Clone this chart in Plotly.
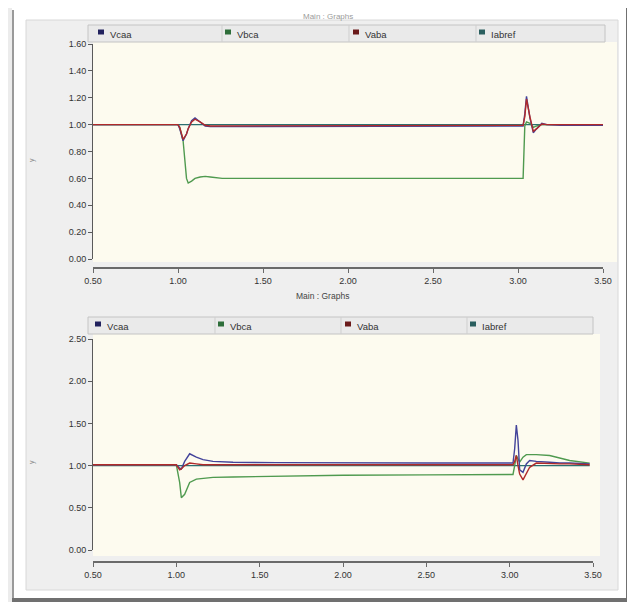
import plotly.graph_objects as go

# ---------------- data ----------------
series_names = ["Vcaa", "Vbca", "Vaba", "Iabref"]

t_top = [0.50, 1.00, 1.01, 1.03, 1.05, 1.06, 1.08, 1.10, 1.13, 1.16, 1.19, 1.26, 1.60, 2.00,
         2.50, 3.00, 3.02, 3.03, 3.04, 3.05, 3.07, 3.09, 3.11, 3.14, 3.17, 3.25, 3.50]
vcaa_top = [1.00, 1.00, 0.97, 0.88, 0.93, 0.97, 1.03, 1.05, 1.02, 0.99, 0.985, 0.985, 0.985, 0.985,
            0.985, 0.985, 0.985, 0.99, 1.08, 1.21, 1.05, 0.94, 0.97, 1.01, 1.00, 0.995, 0.995]
vbca_top = [1.00, 1.00, 0.98, 0.88, 0.60, 0.565, 0.58, 0.60, 0.61, 0.615, 0.61, 0.60, 0.60, 0.60,
            0.60, 0.60, 0.60, 0.60, 0.99, 1.02, 1.01, 0.98, 0.99, 1.00, 1.00, 1.00, 1.00]
vaba_top = [1.00, 1.00, 0.98, 0.89, 0.93, 0.97, 1.02, 1.04, 1.02, 0.995, 0.99, 0.99, 0.99, 0.99,
            0.99, 0.99, 0.99, 0.995, 1.06, 1.19, 1.06, 0.95, 0.97, 1.005, 1.00, 1.00, 1.00]
iabref_top = [1.00] * len(t_top)

t_bot = [0.50, 1.00, 1.02, 1.03, 1.05, 1.08, 1.12, 1.16, 1.22, 1.34, 1.60, 2.00, 2.50, 3.00,
         3.02, 3.03, 3.04, 3.05, 3.06, 3.08, 3.10, 3.12, 3.16, 3.24, 3.30, 3.36, 3.48]
vcaa_bot = [1.01, 1.01, 0.97, 0.96, 1.05, 1.14, 1.10, 1.07, 1.05, 1.04, 1.035, 1.03, 1.03, 1.03,
            1.03, 1.20, 1.48, 1.30, 0.95, 0.92, 1.02, 1.06, 1.05, 1.04, 1.03, 1.03, 1.02]
vbca_bot = [1.01, 1.01, 0.80, 0.62, 0.66, 0.80, 0.84, 0.85, 0.86, 0.865, 0.875, 0.885, 0.89, 0.895,
            0.895, 1.00, 1.12, 1.08, 1.04, 1.10, 1.13, 1.13, 1.13, 1.12, 1.09, 1.06, 1.03]
vaba_bot = [1.01, 1.01, 0.95, 0.96, 1.00, 1.03, 1.02, 1.01, 1.01, 1.01, 1.01, 1.01, 1.01, 1.01,
            1.01, 1.05, 1.12, 1.00, 0.90, 0.83, 0.90, 0.98, 1.03, 1.02, 1.02, 1.02, 1.01]
iabref_bot = [1.00] * len(t_bot)

x_ticks = [0.5, 1.0, 1.5, 2.0, 2.5, 3.0, 3.5]
y_ticks_top = [0.0, 0.2, 0.4, 0.6, 0.8, 1.0, 1.2, 1.4, 1.6]
y_ticks_bot = [0.0, 0.5, 1.0, 1.5, 2.0, 2.5]
panel_title = "Main : Graphs"

# ---------------- style ----------------
# the page body has an 8px margin, so the figure is placed at (8, 8) in the window
OFF = 8
W, H = 635 - OFF, 602 - OFF
colors = {"Vcaa": "#43439a", "Vbca": "#4f9a4f", "Vaba": "#b02a2a", "Iabref": "#2b7070"}
legend_marker_colors = {"Vcaa": "#22225e", "Vbca": "#2e6e3a", "Vaba": "#6a1a1a", "Iabref": "#2b5f5f"}
FONT = "Liberation Sans"


def px(x):
    return (x - OFF) / W


def py(y):
    return 1 - (y - OFF) / H


fig = go.Figure()

top_series = {"Vcaa": vcaa_top, "Vbca": vbca_top, "Vaba": vaba_top, "Iabref": iabref_top}
bot_series = {"Vcaa": vcaa_bot, "Vbca": vbca_bot, "Vaba": vaba_bot, "Iabref": iabref_bot}
order = ["Iabref", "Vbca", "Vcaa", "Vaba"]

for name in order:
    fig.add_trace(go.Scatter(x=t_top, y=top_series[name], mode="lines", name=name,
                             line=dict(color=colors[name], width=1.4), showlegend=False,
                             xaxis="x", yaxis="y"))
for name in order:
    fig.add_trace(go.Scatter(x=t_bot, y=bot_series[name], mode="lines", name=name,
                             line=dict(color=colors[name], width=1.4), showlegend=False,
                             xaxis="x2", yaxis="y2"))

tickfont = dict(family=FONT, size=9, color="#333333")

common_x = dict(range=[0.5, 3.5], tickvals=x_ticks, tickformat=".2f", showgrid=False,
                zeroline=False, showline=True, linecolor="#6a6a6a", linewidth=1.6,
                ticks="outside", ticklen=4, tickcolor="#6a6a6a", tickfont=tickfont,
                anchor="free", fixedrange=True, automargin=False)
common_y = dict(tickformat=".2f", showgrid=False, zeroline=False, showline=True,
                linecolor="#5a5a5a", linewidth=1, ticks="outside", ticklen=4,
                tickcolor="#5a5a5a", tickfont=tickfont, fixedrange=True, automargin=False)

shapes = []
# outer frame
shapes.append(dict(type="rect", xref="paper", yref="paper", x0=px(8), x1=px(12), y0=py(602), y1=py(8),
                   fillcolor="#ececec", line=dict(width=0), layer="below"))
shapes.append(dict(type="rect", xref="paper", yref="paper", x0=px(12), x1=px(14), y0=py(602), y1=py(10),
                   fillcolor="#9a9a9a", line=dict(width=0), layer="below"))
shapes.append(dict(type="rect", xref="paper", yref="paper", x0=px(626), x1=px(635), y0=py(602), y1=py(8),
                   fillcolor="#707070", line=dict(width=0), layer="below"))
shapes.append(dict(type="rect", xref="paper", yref="paper", x0=px(12), x1=px(635), y0=py(602), y1=py(598),
                   fillcolor="#707070", line=dict(width=0), layer="below"))
# gray panel
shapes.append(dict(type="rect", xref="paper", yref="paper", x0=px(26), x1=px(618), y0=py(590), y1=py(20),
                   fillcolor="#efefef", line=dict(color="#d8d8d8", width=1), layer="below"))
# plot backgrounds
shapes.append(dict(type="rect", xref="paper", yref="paper", x0=px(93), x1=px(617), y0=py(262), y1=py(42),
                   fillcolor="#fdfbef", line=dict(width=0), layer="below"))
shapes.append(dict(type="rect", xref="paper", yref="paper", x0=px(93), x1=px(600), y0=py(556), y1=py(334),
                   fillcolor="#fdfbef", line=dict(width=0), layer="below"))
# legend bars
legend_bars = [
    dict(x0=88, x1=605, y0=25, y1=42, seps=[222, 349, 476], marks=[101, 228, 356, 482]),
    dict(x0=88, x1=593, y0=317, y1=334, seps=[215, 341, 467], marks=[98, 221, 348, 473]),
]
annotations = []
for lb in legend_bars:
    shapes.append(dict(type="rect", xref="paper", yref="paper", x0=px(lb["x0"]), x1=px(lb["x1"]),
                       y0=py(lb["y1"]), y1=py(lb["y0"]), fillcolor="#eaeaea",
                       line=dict(color="#c4c4c4", width=1), layer="below"))
    for s in lb["seps"]:
        shapes.append(dict(type="line", xref="paper", yref="paper", x0=px(s), x1=px(s),
                           y0=py(lb["y1"]), y1=py(lb["y0"]), line=dict(color="#cfcfcf", width=1),
                           layer="below"))
    ym = (lb["y0"] + lb["y1"]) / 2
    for name, mx in zip(series_names, lb["marks"]):
        shapes.append(dict(type="rect", xref="paper", yref="paper", x0=px(mx - 3), x1=px(mx + 3),
                           y0=py(ym + 1), y1=py(ym - 4), fillcolor=legend_marker_colors[name],
                           line=dict(width=0), layer="above"))
        annotations.append(dict(x=px(mx + 7), y=py(ym + 1), xref="paper", yref="paper", text=name,
                                showarrow=False, xanchor="left", yanchor="middle",
                                font=dict(family=FONT, size=9.5, color="#333333")))

annotations.append(dict(x=px(328), y=py(16), xref="paper", yref="paper", text=panel_title,
                        showarrow=False, xanchor="center", yanchor="middle",
                        font=dict(family=FONT, size=8, color="#9a9a9a")))
annotations.append(dict(x=px(322), y=py(296), xref="paper", yref="paper", text=panel_title,
                        showarrow=False, xanchor="center", yanchor="middle",
                        font=dict(family=FONT, size=8.5, color="#444444")))
for yy in (160, 462):
    annotations.append(dict(x=px(32), y=py(yy), xref="paper", yref="paper", text="y",
                            showarrow=False, textangle=-90, xanchor="center", yanchor="middle",
                            font=dict(family=FONT, size=7, color="#8a8a8a")))

fig.update_layout(
    width=W, height=H, margin=dict(l=0, r=0, t=0, b=0, autoexpand=False),
    paper_bgcolor="white", plot_bgcolor="rgba(0,0,0,0)",
    xaxis=dict(common_x, domain=[px(93), px(603)], position=py(268)),
    yaxis=dict(common_y, domain=[py(259), py(44)], range=[0, 1.6], tickvals=y_ticks_top, anchor="x"),
    xaxis2=dict(common_x, domain=[px(93), px(593)], position=py(562)),
    yaxis2=dict(common_y, domain=[py(550), py(339)], range=[0, 2.5], tickvals=y_ticks_bot, anchor="x2"),
    shapes=shapes, annotations=annotations, showlegend=False,
)

fig.write_html("out.html")
